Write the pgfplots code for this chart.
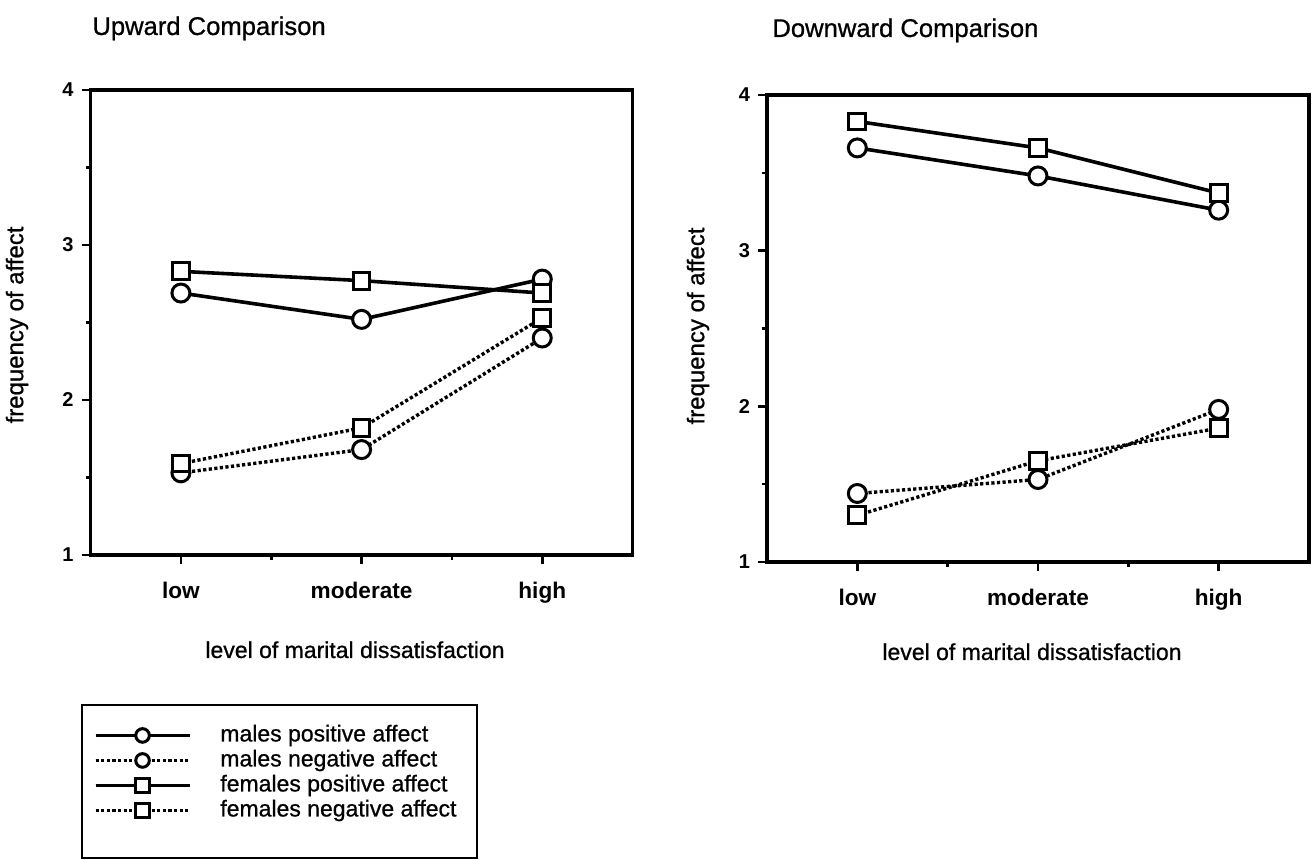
\documentclass[border=0pt]{standalone}
\usepackage{fontspec}
\setmainfont{Liberation Sans}
\newfontface\hv[FakeBold=0.8]{Liberation Sans}
\usepackage{pgfplots}
\pgfplotsset{compat=1.18}

\pgfplotsset{
  myax/.style={
    scale only axis, width=271pt,
    xmin=-0.5, xmax=2.5, ymin=1, ymax=4,
    axis line style={line width=1.8pt},
    xtick={0,1,2}, xticklabels={low,moderate,high},
    minor xtick={0.5,1.5},
    ytick={1,2,3,4}, minor ytick={1.5,2.5,3.5},
    tick align=outside, tick pos=left,
    major tick length=4.5pt, minor tick length=2.5pt,
    every tick/.style={black, line width=1.3pt},
    /pgf/number format/assume math mode=true,
    xticklabel style={font=\bfseries\fontsize{11.3}{13}\selectfont, yshift=-5.5pt},
    yticklabel style={font=\bfseries\fontsize{10}{12}\selectfont, xshift=-0.5pt},
    clip=false,
  },
  mpos/.style={black, line width=1.8pt, mark=*, mark size=4.5pt, mark options={solid, fill=white, line width=1.5pt}},
  mneg/.style={black, line width=1.7pt, dash pattern=on 1.6pt off 1.2pt, mark=*, mark size=4.5pt, mark options={solid, fill=white, line width=1.5pt}},
  fpos/.style={black, line width=1.8pt, mark=square*, mark size=4.2pt, mark options={solid, fill=white, line width=1.5pt}},
  fneg/.style={black, line width=1.7pt, dash pattern=on 1.6pt off 1.2pt, mark=square*, mark size=4.2pt, mark options={solid, fill=white, line width=1.5pt}},
}

\begin{document}
\begin{tikzpicture}[x=1pt,y=1pt]
\path[use as bounding box] (0,0) rectangle (657,430);

% Left: Upward comparison
\begin{axis}[myax, height=232.5pt, at={(45.3pt,152.5pt)}, anchor=south west,
  legend style={draw=none, fill=none, at={(rel axis cs:-0.006,-0.355)}, anchor=north west,
    font=\hv\fontsize{11.5}{13}\selectfont, column sep=14.5pt, row sep=1.5pt,
    nodes={inner sep=0pt, text height=8.5pt, text depth=2.5pt}},
  legend cell align=left,
  legend image code/.code={
    \draw[#1, mark=none] (0pt,0pt) -- (47pt,0pt);
    \draw[#1, mark size=3.4pt, mark repeat=2, mark phase=2] plot coordinates {(0pt,0pt) (23.5pt,0pt) (47pt,0pt)};
  },
]
\addplot[mpos] coordinates {(0,2.69) (1,2.52) (2,2.78)};
\addlegendentry{males positive affect}
\addplot[mneg] coordinates {(0,1.53) (1,1.68) (2,2.40)};
\addlegendentry{males negative affect}
\addplot[fpos] coordinates {(0,2.83) (1,2.77) (2,2.69)};
\addlegendentry{females positive affect}
\addplot[fneg] coordinates {(0,1.59) (1,1.82) (2,2.53)};
\addlegendentry{females negative affect}
\end{axis}

% Right: Downward comparison
\begin{axis}[myax, height=233.5pt, at={(383.5pt,149pt)}, anchor=south west]
\addplot[mpos] coordinates {(0,3.66) (1,3.48) (2,3.26)};
\addplot[mneg] coordinates {(0,1.44) (1,1.53) (2,1.98)};
\addplot[fpos] coordinates {(0,3.83) (1,3.66) (2,3.37)};
\addplot[fneg] coordinates {(0,1.30) (1,1.65) (2,1.86)};
\end{axis}

% titles and labels
\node[anchor=base west, font=\hv\fontsize{12.8}{14}\selectfont, inner sep=0pt] at (46pt,412.5pt) {Upward Comparison};
\node[anchor=base west, font=\hv\fontsize{12.8}{14}\selectfont, inner sep=0pt] at (386pt,411.5pt) {Downward Comparison};
\node[rotate=90, font=\hv\fontsize{12}{14}\selectfont, inner sep=0pt] at (8.5pt,267.5pt) {frequency of affect};
\node[rotate=90, font=\hv\fontsize{12}{14}\selectfont, inner sep=0pt] at (349pt,267pt) {frequency of affect};
\node[anchor=base, font=\hv\fontsize{11.5}{13}\selectfont, inner sep=0pt] at (177.5pt,101pt) {level of marital dissatisfaction};
\node[anchor=base, font=\hv\fontsize{11.5}{13}\selectfont, inner sep=0pt] at (516pt,100pt) {level of marital dissatisfaction};

% legend frame
\draw[line width=1.4pt] (41pt,1pt) rectangle (238.5pt,77.5pt);
\end{tikzpicture}
\end{document}
